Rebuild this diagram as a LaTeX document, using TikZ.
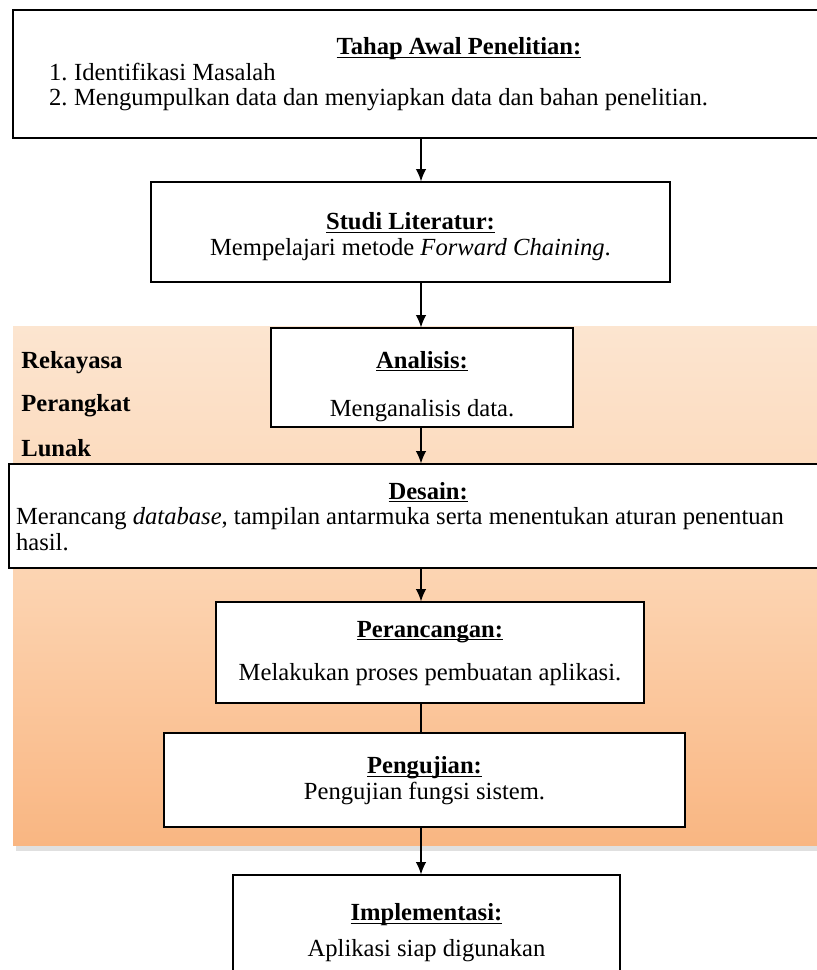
\documentclass[tikz,border=0pt]{standalone}
\usepackage{fontspec}
\setmainfont{Liberation Serif}
\usetikzlibrary{arrows.meta}

\definecolor{bandtop}{RGB}{252,229,208}
\definecolor{bandmid}{RGB}{252,211,176}
\definecolor{bandbot}{RGB}{249,182,130}

\newcommand\headline[1]{\underline{\smash{\textbf{#1}}}\strut}

\tikzset{
  stage/.style={draw=black, line width=0.8pt, fill=white, align=flush center, inner sep=2pt,
    font=\fontsize{14}{14.5}\selectfont},
  flow/.style={-{Latex[length=7pt,width=6pt]}, line width=0.7pt},
  phase/.style={anchor=west, inner sep=0pt, font=\fontsize{14}{14.5}\selectfont\bfseries},
}

\begin{document}
\begin{tikzpicture}[x=0.02cm,y=-0.02cm]
\useasboundingbox (0,0) rectangle (817,970);
\clip (0,0) rectangle (817,970);
% band of the software engineering stages
\fill[black!12] (16,843) rectangle (843,851);
\shade[top color=bandtop, bottom color=bandbot, middle color=bandmid] (13,326) rectangle (840,845);
\node[phase] (rekayasa) at (21,363) {Rekayasa};
\node[phase] (perangkat) at (21,406) {Perangkat};
\node[phase] (lunak) at (21,448) {Lunak};
\coordinate (spine) at (421,0);
% stages
\node[stage, minimum width=17.84cm, minimum height=2.56cm, text width=17.5cm] (awal) at (459,74)
  {\headline{Tahap Awal Penelitian:}\\
   \makebox[17.5cm][l]{\hspace{0.55cm}\makebox[0.5cm][l]{1.}Identifikasi Masalah}\\
   \makebox[17.5cm][l]{\hspace{0.55cm}\makebox[0.5cm][l]{2.}Mengumpulkan data dan menyiapkan data dan bahan penelitian.}};
\node[stage, minimum width=10.38cm, minimum height=2cm] (studi) at (410.5,232)
  {\rule{0pt}{15pt}\headline{Studi Literatur:}\\ Mempelajari metode \textit{Forward Chaining}.};
\node[stage, minimum width=6.04cm, minimum height=1.98cm] (analisis) at (422,377.5)
  {\rule{0pt}{20pt}\headline{Analisis:}\\[13pt] Menganalisis data.};
\node[stage, minimum width=16.58cm, minimum height=2.08cm, text width=16.3cm, align=flush left] (desain) at (423.5,516)
  {\hspace*{7.45cm}\headline{Desain:}\\
   Merancang \textit{database}, tampilan antarmuka serta menentukan aturan penentuan\\ hasil.};
\node[stage, minimum width=8.56cm, minimum height=2.02cm] (perancangan) at (430,652.5)
  {\headline{Perancangan:}\\[10pt] Melakukan proses pembuatan aplikasi.};
\node[stage, minimum width=10.42cm, minimum height=1.88cm] (pengujian) at (424.5,780)
  {\headline{Pengujian:}\\ Pengujian fungsi sistem.};
\node[stage, minimum width=7.74cm, minimum height=2.3cm] (implementasi) at (426.5,932.5)
  {\headline{Implementasi:}\\[6pt] Aplikasi siap digunakan};
% connectors
\draw[flow] (awal.south -| spine) -- (studi.north -| spine);
\draw[flow] (studi.south -| spine) -- (analisis.north -| spine);
\draw[flow] (analisis.south -| spine) -- (desain.north -| spine);
\draw[flow] (desain.south -| spine) -- (perancangan.north -| spine);
\draw[line width=0.7pt] (perancangan.south -| spine) -- (pengujian.north -| spine);
\draw[flow] (pengujian.south -| spine) -- (implementasi.north -| spine);
\end{tikzpicture}
\end{document}
